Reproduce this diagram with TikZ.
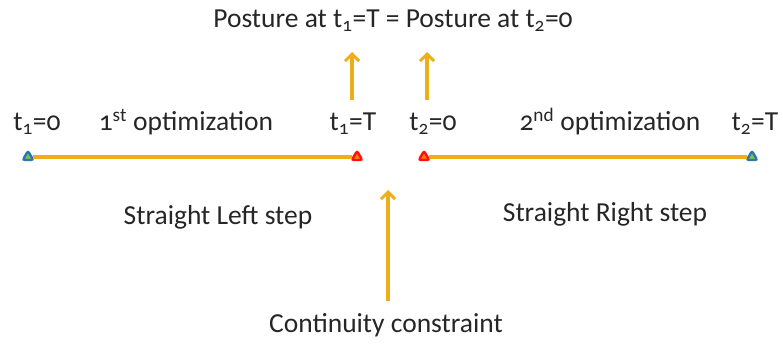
\documentclass[tikz,border=0pt]{standalone}
\usepackage{fontspec}
\setmainfont{Carlito}[Numbers=OldStyle]
\usetikzlibrary{arrows.meta,shapes.geometric}
\definecolor{gold}{HTML}{EDAE1A}
\definecolor{mblue}{HTML}{2E75B6}
\definecolor{mred}{HTML}{FF1010}
\tikzset{
  txt/.style={font=\fontsize{27.5}{32}\selectfont, inner sep=0pt, anchor=base, text=black!85},
  tline/.style={draw=gold, line width=3.2pt},
  uparrow/.style={draw=gold, line width=3.2pt, -{Straight Barb[length=7pt,width=14pt,line width=3pt]}},
  bmark/.style={regular polygon, regular polygon sides=3, draw=mblue, fill=mblue!70!green!60!yellow, line width=2.4pt, minimum size=12pt, inner sep=0pt, rounded corners=2pt},
  rmark/.style={regular polygon, regular polygon sides=3, draw=mred, fill=orange, line width=2.4pt, minimum size=12pt, inner sep=0pt, rounded corners=2pt},
}
\begin{document}
\begin{tikzpicture}[x=1pt,y=-1pt]
\useasboundingbox (0,0) rectangle (783,344);
% top label
\node[txt] (post) at (393,28) {Posture at t\textsubscript{1}=T = Posture at t\textsubscript{2}=0};
% row labels
\node[txt] (a0) at (37,131) {t\textsubscript{1}=0};
\node[txt] (o1) at (186,131) {1\textsuperscript{st} optimization};
\node[txt] (a1) at (353,131) {t\textsubscript{1}=T};
\node[txt] (b0) at (433,131) {t\textsubscript{2}=0};
\node[txt] (o2) at (610,131) {2\textsuperscript{nd} optimization};
\node[txt] (b1) at (755,131) {t\textsubscript{2}=T};
% timelines
\node[bmark] (s1) at (28,157) {};
\node[rmark] (e1) at (357,157) {};
\node[rmark] (s2) at (424,157) {};
\node[bmark] (e2) at (752,157) {};
\draw[tline] (s1.east) -- (e1.west);
\draw[tline] (s2.east) -- (e2.west);
% step labels
\node[txt] (ls) at (218,225) {Straight Left step};
\node[txt] (rs) at (605,222) {Straight Right step};
% bottom label
\node[txt] (cc) at (386,332) {Continuity constraint};
% arrows
\coordinate (p1) at (352,100);
\coordinate (p1t) at (352,52);
\coordinate (p2) at (427,100);
\coordinate (p2t) at (427,52);
\coordinate (c0) at (388,301);
\coordinate (c1) at (388,190);
\draw[uparrow] (p1) -- (p1t);
\draw[uparrow] (p2) -- (p2t);
\draw[uparrow] (c0) -- (c1);
\end{tikzpicture}
\end{document}
